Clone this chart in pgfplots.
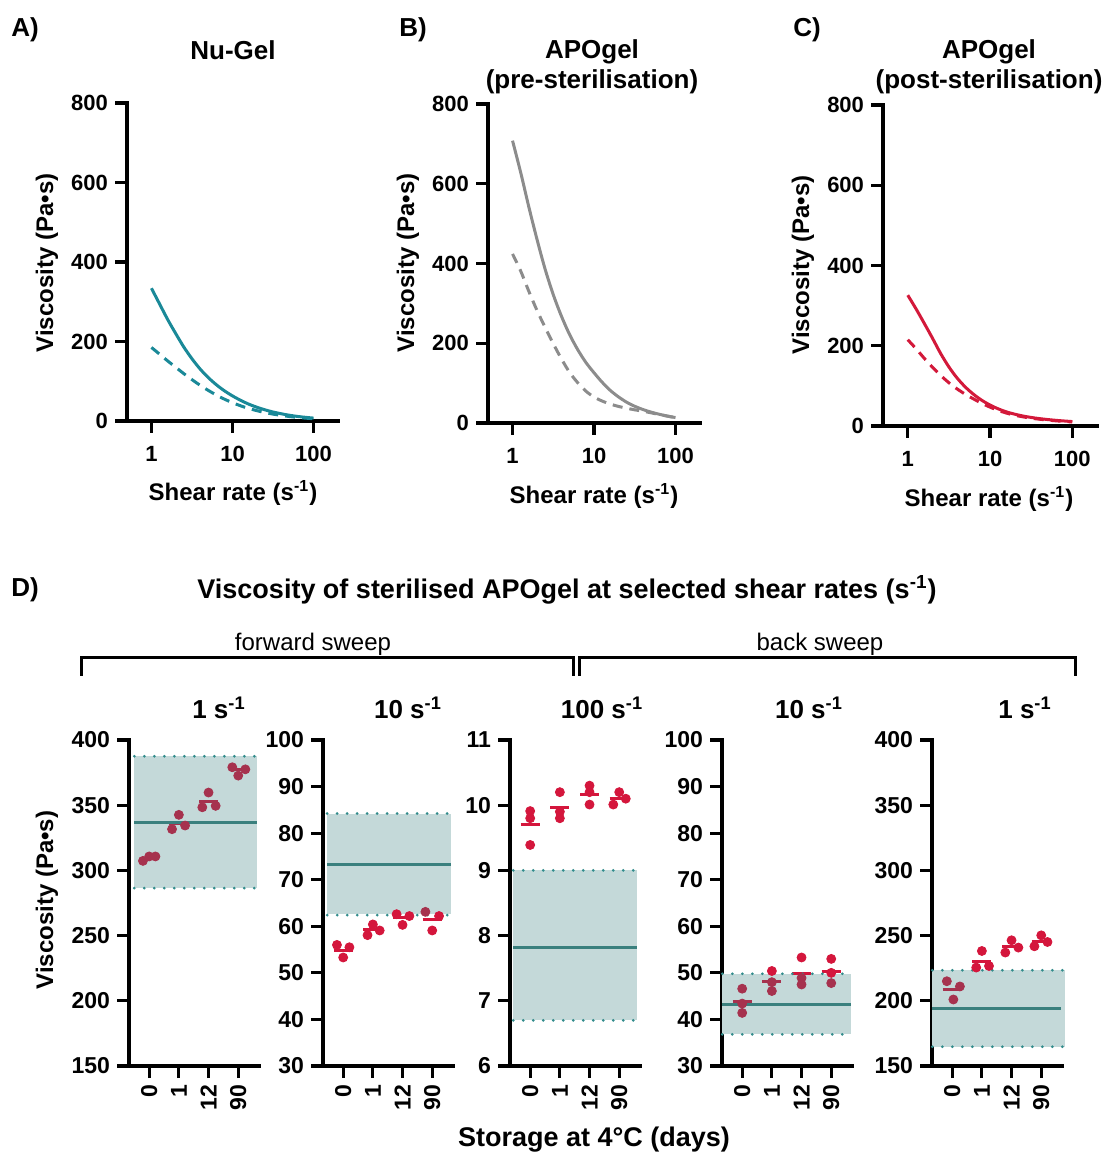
\documentclass[border=0pt]{standalone}
\usepackage{pgfplots}
\pgfplotsset{compat=1.18}
\usepackage{fontspec}
\setmainfont{Liberation Sans}
\definecolor{tealA}{RGB}{26,137,152}
\definecolor{grayB}{RGB}{140,140,140}
\definecolor{redC}{RGB}{211,25,58}
\definecolor{dotred}{RGB}{212,22,60}
\definecolor{dotdark}{RGB}{166,50,78}
\definecolor{bandfill}{RGB}{196,217,217}
\definecolor{meanteal}{RGB}{58,128,126}
\definecolor{dotteal}{RGB}{50,140,140}
\pgfplotsset{
  gp/.style={
    scale only axis,
    anchor=south west,
    axis x line=bottom, axis y line=left,
    axis line style={-, line width=1.6pt, line cap=rect},
    tick align=outside,
    major tick length=6pt,
    every tick/.style={black, line width=1.6pt},
    ticklabel style={font=\fontsize{11}{13}\selectfont\bfseries},
    clip=false,
  },
  gpD/.style={gp, width=65pt, height=163pt, xmin=-0.68, xmax=3.7,
    xtick={0,1,2,3}, xticklabels={0,1,12,90},
    ticklabel style={font=\fontsize{11.5}{13}\selectfont\bfseries},
    xticklabel style={rotate=90, anchor=east}},
  dots/.style={only marks, mark=*, mark size=2.25pt, dotred, mark options={draw=dotred, fill=dotred}},
  dotsin/.style={only marks, mark=*, mark size=2.25pt, dotdark, mark options={draw=dotdark, fill=dotdark}},
  meanbar/.style={dotred, line width=1.5pt, unbounded coords=jump},
  meanbarin/.style={dotdark, line width=1.5pt, unbounded coords=jump},
  band/.style={fill=bandfill, draw=none},
  bandedge/.style={dotteal, line width=1.5pt, line cap=round, dash pattern=on 0pt off 5pt},
  bandmean/.style={meanteal, line width=1.5pt},
  curve/.style={line width=1.5pt, smooth, tension=0.5},
  dcurve/.style={line width=1.5pt, smooth, tension=0.5, dash pattern=on 5pt off 3.5pt},
}
\pgfplotsset{/pgf/number format/assume math mode=true}
\begin{document}
\begin{tikzpicture}
\useasboundingbox (0,0) rectangle (554.5pt,578pt);
\tikzset{lbl/.style={font=\fontsize{12}{14}\selectfont\bfseries, inner sep=0pt},
         ttl/.style={font=\fontsize{13}{15}\selectfont\bfseries, inner sep=0pt, align=center}}
% ---------------- Panel A
\begin{axis}[gp, xmode=log, xmin=0.5, xmax=200, ymin=0, ymax=800,
    xtick={1,10,100}, xticklabels={1,10,100}, xminorticks=false,
    xticklabel style={yshift=-3pt},
    ytick={0,200,400,600,800}, at={(63.5pt,367.5pt)}, width=105.5pt, height=159pt]
\addplot[tealA, curve] coordinates {(1,334) (1.26,294.6) (1.58,256) (2,219.5) (2.51,186) (3.16,156.7) (3.98,131) (5.01,109.5) (6.31,91.3) (7.94,76) (10,63.1) (12.6,51.9) (15.8,42.5) (20,34.6) (25.1,28.1) (31.6,22.6) (39.8,18.2) (50.1,14.5) (63.1,11.5) (79.4,9.2) (100,7.3)};
\addplot[tealA, dcurve] coordinates {(1,185) (1.26,168.2) (1.58,151.4) (2,135) (2.51,119.1) (3.16,104.1) (3.98,90) (5.01,77.1) (6.31,65.4) (7.94,55) (10,46) (12.6,38.2) (15.8,31.6) (20,26) (25.1,21.3) (31.6,17.3) (39.8,14.1) (50.1,11.3) (63.1,9.1) (79.4,7.2) (100,5.7)};
\end{axis}
% ---------------- Panel B
\begin{axis}[gp, xmode=log, xmin=0.5, xmax=200, ymin=0, ymax=800,
    xtick={1,10,100}, xticklabels={1,10,100}, xminorticks=false,
    xticklabel style={yshift=-3pt},
    ytick={0,200,400,600,800}, at={(244pt,366.5pt)}, width=106pt, height=159.5pt]
\addplot[grayB, curve] coordinates {(1,708) (1.26,628) (1.58,543) (2,460) (2.51,386) (3.16,322) (3.98,268) (5.01,222) (6.31,184) (7.94,152) (10,126) (12.6,102.1) (15.8,81.9) (20,65.4) (25.1,52.2) (31.6,41.9) (39.8,33.8) (50.1,27.3) (63.1,21.9) (79.4,17.4) (100,13.6)};
\addplot[grayB, dcurve] coordinates {(1,424) (1.26,381) (1.58,331) (2,282) (2.51,240) (3.16,199) (3.98,161) (5.01,127) (6.31,101) (7.94,80) (10,65) (12.6,55) (15.8,47.5) (20,41.5) (25.1,37) (31.6,33) (39.8,29.5) (50.1,25.5) (63.1,21.3) (79.4,17.2) (100,13.4)};
\end{axis}
% ---------------- Panel C
\begin{axis}[gp, xmode=log, xmin=0.5, xmax=200, ymin=0, ymax=800,
    xtick={1,10,100}, xticklabels={1,10,100}, xminorticks=false,
    xticklabel style={yshift=-3pt},
    ytick={0,200,400,600,800}, at={(441.5pt,365pt)}, width=107pt, height=160.5pt]
\addplot[redC, curve] coordinates {(1,326) (1.26,292) (1.58,256.5) (2,218.6) (2.51,180.7) (3.16,147.3) (3.98,119.6) (5.01,97.1) (6.31,78.9) (7.94,64.1) (10,52.2) (12.6,42.7) (15.8,35.2) (20,29.4) (25.1,24.9) (31.6,21.3) (39.8,18.4) (50.1,16.1) (63.1,14.1) (79.4,12.5) (100,11)};
\addplot[redC, dcurve] coordinates {(1,215) (1.26,192.7) (1.58,169.2) (2,146.4) (2.51,126) (3.16,107.9) (3.98,92.4) (5.01,79.1) (6.31,67.4) (7.94,56.6) (10,47) (12.6,38.9) (15.8,32.2) (20,26.9) (25.1,22.8) (31.6,19.5) (39.8,16.9) (50.1,14.7) (63.1,12.9) (79.4,11.4) (100,10.1)};
\end{axis}
% ---------------- D1
\begin{axis}[gpD, at={(64.5pt,45pt)}, ymin=150, ymax=400, ytick={150,200,...,400}]
\addplot[band] coordinates {(-0.5,286.4) (3.64,286.4) (3.64,387.5) (-0.5,387.5)} -- cycle;
\addplot[dotsin] coordinates {(-0.21,307.3) (0,310.7) (0.21,310.7) (0.77,331.6) (1,342.6) (1.21,334.4) (1.79,348.4) (2,359.7) (2.24,349.5) (2.8,379.1) (3,372.7) (3.24,377.5)};
\addplot[meanbarin] coordinates {(-0.32,309.4) (0.32,309.4) (nan,nan) (0.68,336.2) (1.32,336.2) (nan,nan) (1.68,352.8) (2.32,352.8) (nan,nan) (2.68,377) (3.32,377)};
\addplot[bandedge] coordinates {(-0.5,387.5) (3.64,387.5)};
\addplot[bandedge] coordinates {(-0.5,286.4) (3.64,286.4)};
\addplot[bandmean] coordinates {(-0.5,336.4) (3.64,336.4)};
\end{axis}
% ---------------- D2
\begin{axis}[gpD, at={(161.5pt,45pt)}, ymin=30, ymax=100, ytick={30,40,...,100}]
\addplot[band] coordinates {(-0.54,62.6) (3.64,62.6) (3.64,84.2) (-0.54,84.2)} -- cycle;
\addplot[dots] coordinates {(-0.21,56.0) (0,53.3) (0.21,55.5) (0.82,58.1) (1,60.4) (1.23,59.1) (1.8,62.6) (2,60.3) (2.23,62.2) (3,59.1) (3.23,62.2)};
\addplot[dotsin] coordinates {(2.77,63.1)};
\addplot[meanbar] coordinates {(-0.32,54.9) (0.32,54.9) (nan,nan) (0.68,59.3) (1.32,59.3) (nan,nan) (1.68,61.9) (2.32,61.9) (nan,nan) (2.68,61.5) (3.32,61.5)};
\addplot[bandedge] coordinates {(-0.54,84.2) (3.64,84.2)};
\addplot[bandedge] coordinates {(-0.54,62.4) (3.64,62.4)};
\addplot[bandmean] coordinates {(-0.54,73.3) (3.64,73.3)};
\end{axis}
% ---------------- D3
\begin{axis}[gpD, at={(255pt,45pt)}, ymin=6, ymax=11, ytick={6,7,...,11}]
\addplot[band] coordinates {(-0.57,6.70) (3.6,6.70) (3.6,9.0) (-0.57,9.0)} -- cycle;
\addplot[dots] coordinates {(0,9.91) (0,9.80) (0,9.39) (1,10.20) (1,9.90) (1,9.80) (2,10.30) (2,10.20) (2,10.01) (2.8,10.01) (3,10.20) (3.22,10.10)};
\addplot[meanbar] coordinates {(-0.32,9.71) (0.32,9.71) (nan,nan) (0.68,9.97) (1.32,9.97) (nan,nan) (1.68,10.17) (2.32,10.17) (nan,nan) (2.68,10.10) (3.32,10.10)};
\addplot[bandedge] coordinates {(-0.57,9.0) (3.6,9.0)};
\addplot[bandedge] coordinates {(-0.57,6.70) (3.6,6.70)};
\addplot[bandmean] coordinates {(-0.57,7.81) (3.6,7.81)};
\end{axis}
% ---------------- D4
\begin{axis}[gpD, at={(361pt,45pt)}, ymin=30, ymax=100, ytick={30,40,...,100}]
\addplot[band] coordinates {(-0.67,36.8) (3.68,36.8) (3.68,49.8) (-0.67,49.8)} -- cycle;
\addplot[dotsin] coordinates {(0,46.6) (0,43.4) (0,41.4) (1,48.0) (1,46.1) (2,48.9) (2,47.5) (3,47.8)};
\addplot[dots] coordinates {(1,50.4) (2,53.3) (3,53.0) (3,50.0)};
\addplot[meanbarin] coordinates {(-0.32,43.8) (0.32,43.8) (nan,nan) (0.68,48.2) (1.32,48.2)};
\addplot[meanbar] coordinates {(1.68,49.9) (2.32,49.9) (nan,nan) (2.68,50.3) (3.32,50.3)};
\addplot[bandedge] coordinates {(-0.67,49.8) (3.68,49.8)};
\addplot[bandedge] coordinates {(-0.67,36.8) (3.68,36.8)};
\addplot[bandmean] coordinates {(-0.67,43.3) (3.68,43.3)};
\end{axis}
% ---------------- D5
\begin{axis}[gpD, at={(466pt,45pt)}, ymin=150, ymax=400, ytick={150,200,...,400}]
\addplot[band] coordinates {(-0.67,164.8) (3.8,164.8) (3.8,223.4) (-0.67,223.4)} -- cycle;
\addplot[dotsin] coordinates {(-0.18,215) (0.04,201) (0.26,211)};
\addplot[dots] coordinates {(0.81,225.5) (1,238.2) (1.24,226.7) (1.79,237.0) (2,246.4) (2.23,240.8) (2.77,241.8) (3,250.2) (3.21,245.1)};
\addplot[meanbarin] coordinates {(-0.32,209) (0.32,209)};
\addplot[meanbar] coordinates {(0.68,230) (1.32,230) (nan,nan) (1.68,241.8) (2.32,241.8) (nan,nan) (2.68,245.8) (3.32,245.8)};
\addplot[bandedge] coordinates {(-0.67,223.4) (3.8,223.4)};
\addplot[bandedge] coordinates {(-0.67,164.8) (3.8,164.8)};
\addplot[bandmean] coordinates {(-0.67,194.1) (3.65,194.1)};
\end{axis}
% ---------------- Text
\node[ttl] at (12.5pt,563pt) {A)};
\node[ttl] at (116.5pt,553pt) {Nu-Gel};
\node[lbl, rotate=90] at (23.5pt,446.5pt) {Viscosity (Pa•s)};
\node[lbl] at (116.5pt,331.5pt) {Shear rate (s\textsuperscript{-1})};
\node[ttl] at (206.5pt,563pt) {B)};
\node[ttl] at (296pt,544.5pt) {APOgel\\(pre-sterilisation)};
\node[lbl, rotate=90] at (204pt,446.5pt) {Viscosity (Pa•s)};
\node[lbl] at (297pt,330pt) {Shear rate (s\textsuperscript{-1})};
\node[ttl] at (403.5pt,563pt) {C)};
\node[ttl] at (494.5pt,544.5pt) {APOgel\\(post-sterilisation)};
\node[lbl, rotate=90] at (401.5pt,445.5pt) {Viscosity (Pa•s)};
\node[lbl] at (494.5pt,328.5pt) {Shear rate (s\textsuperscript{-1})};
\node[ttl] at (12.5pt,283pt) {D)};
\node[ttl, font=\fontsize{13.5}{15}\selectfont\bfseries] at (283.5pt,283pt) {Viscosity of sterilised APOgel at selected shear rates (s\textsuperscript{-1})};
\node[font=\fontsize{12}{14}\selectfont, inner sep=0pt] at (156.5pt,256pt) {forward sweep};
\node[font=\fontsize{12}{14}\selectfont, inner sep=0pt] at (410pt,256pt) {back sweep};
\draw[line width=1.5pt] (40.5pt,240pt) -- (40.5pt,249pt) -- (286.5pt,249pt) -- (286.5pt,240pt);
\draw[line width=1.5pt] (289.5pt,240pt) -- (289.5pt,249pt) -- (537.5pt,249pt) -- (537.5pt,240pt);
\node[ttl] at (109.5pt,224pt) {1 s\textsuperscript{-1}};
\node[ttl] at (204pt,224pt) {10 s\textsuperscript{-1}};
\node[ttl] at (301pt,224pt) {100 s\textsuperscript{-1}};
\node[ttl] at (404.5pt,224pt) {10 s\textsuperscript{-1}};
\node[ttl] at (512.5pt,224pt) {1 s\textsuperscript{-1}};
\node[lbl, rotate=90] at (23.5pt,128pt) {Viscosity (Pa•s)};
\node[ttl, font=\fontsize{13.5}{15}\selectfont\bfseries] at (297pt,8pt) {Storage at 4°C (days)};
\end{tikzpicture}
\end{document}
